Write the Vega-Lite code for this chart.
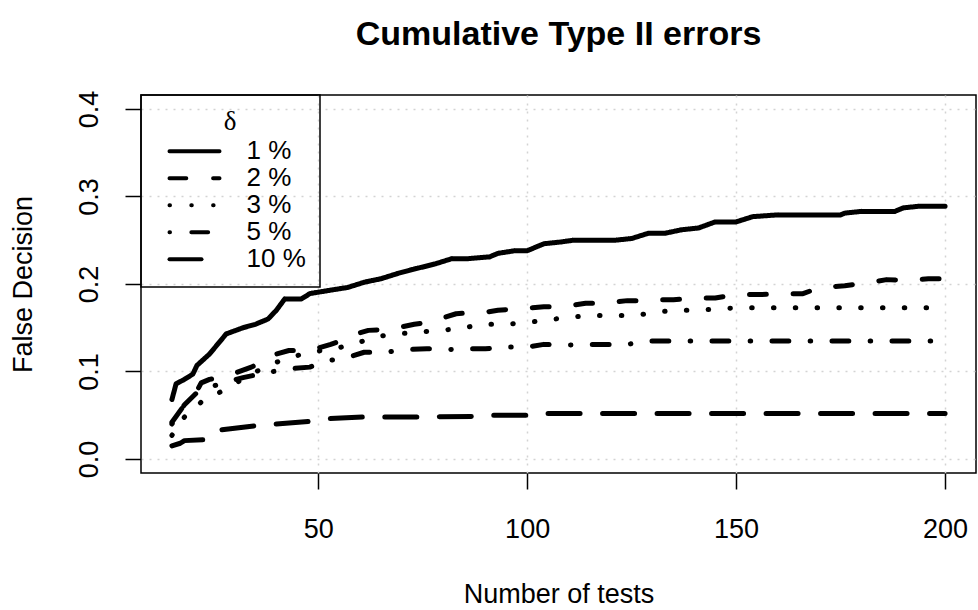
{
  "$schema": "https://vega.github.io/schema/vega-lite/v6.json",
  "width": 835,
  "height": 378,
  "autosize": {"type": "none"},
  "padding": {"left": 141, "top": 95, "right": 2, "bottom": 137},
  "background": "white",
  "title": {
    "text": "Cumulative Type II errors",
    "font": "Liberation Sans",
    "fontSize": 34,
    "fontWeight": "bold",
    "color": "black",
    "anchor": "middle",
    "frame": "group",
    "baseline": "alphabetic",
    "offset": 11
  },
  "datasets": {
    "errs": [
      {"n": 15, "rate": 0.068, "delta": "1 %"},
      {"n": 16, "rate": 0.086, "delta": "1 %"},
      {"n": 18, "rate": 0.091, "delta": "1 %"},
      {"n": 20, "rate": 0.097, "delta": "1 %"},
      {"n": 21, "rate": 0.107, "delta": "1 %"},
      {"n": 24, "rate": 0.120, "delta": "1 %"},
      {"n": 28, "rate": 0.143, "delta": "1 %"},
      {"n": 32, "rate": 0.150, "delta": "1 %"},
      {"n": 35, "rate": 0.154, "delta": "1 %"},
      {"n": 38, "rate": 0.160, "delta": "1 %"},
      {"n": 40, "rate": 0.170, "delta": "1 %"},
      {"n": 42, "rate": 0.183, "delta": "1 %"},
      {"n": 46, "rate": 0.183, "delta": "1 %"},
      {"n": 48, "rate": 0.189, "delta": "1 %"},
      {"n": 53, "rate": 0.193, "delta": "1 %"},
      {"n": 57, "rate": 0.196, "delta": "1 %"},
      {"n": 61, "rate": 0.202, "delta": "1 %"},
      {"n": 65, "rate": 0.206, "delta": "1 %"},
      {"n": 69, "rate": 0.212, "delta": "1 %"},
      {"n": 73, "rate": 0.217, "delta": "1 %"},
      {"n": 78, "rate": 0.223, "delta": "1 %"},
      {"n": 82, "rate": 0.229, "delta": "1 %"},
      {"n": 86, "rate": 0.229, "delta": "1 %"},
      {"n": 91, "rate": 0.231, "delta": "1 %"},
      {"n": 93, "rate": 0.235, "delta": "1 %"},
      {"n": 97, "rate": 0.238, "delta": "1 %"},
      {"n": 100, "rate": 0.238, "delta": "1 %"},
      {"n": 104, "rate": 0.246, "delta": "1 %"},
      {"n": 108, "rate": 0.248, "delta": "1 %"},
      {"n": 111, "rate": 0.250, "delta": "1 %"},
      {"n": 121, "rate": 0.250, "delta": "1 %"},
      {"n": 125, "rate": 0.252, "delta": "1 %"},
      {"n": 129, "rate": 0.258, "delta": "1 %"},
      {"n": 133, "rate": 0.258, "delta": "1 %"},
      {"n": 137, "rate": 0.262, "delta": "1 %"},
      {"n": 141, "rate": 0.264, "delta": "1 %"},
      {"n": 145, "rate": 0.271, "delta": "1 %"},
      {"n": 150, "rate": 0.271, "delta": "1 %"},
      {"n": 154, "rate": 0.277, "delta": "1 %"},
      {"n": 160, "rate": 0.279, "delta": "1 %"},
      {"n": 175, "rate": 0.279, "delta": "1 %"},
      {"n": 176, "rate": 0.281, "delta": "1 %"},
      {"n": 180, "rate": 0.283, "delta": "1 %"},
      {"n": 188, "rate": 0.283, "delta": "1 %"},
      {"n": 190, "rate": 0.287, "delta": "1 %"},
      {"n": 194, "rate": 0.289, "delta": "1 %"},
      {"n": 200, "rate": 0.289, "delta": "1 %"},

      {"n": 15, "rate": 0.042, "delta": "2 %"},
      {"n": 18, "rate": 0.062, "delta": "2 %"},
      {"n": 21, "rate": 0.078, "delta": "2 %"},
      {"n": 22, "rate": 0.087, "delta": "2 %"},
      {"n": 24, "rate": 0.091, "delta": "2 %"},
      {"n": 27, "rate": 0.094, "delta": "2 %"},
      {"n": 30, "rate": 0.098, "delta": "2 %"},
      {"n": 34, "rate": 0.105, "delta": "2 %"},
      {"n": 37, "rate": 0.112, "delta": "2 %"},
      {"n": 40, "rate": 0.120, "delta": "2 %"},
      {"n": 43, "rate": 0.124, "delta": "2 %"},
      {"n": 48, "rate": 0.124, "delta": "2 %"},
      {"n": 53, "rate": 0.131, "delta": "2 %"},
      {"n": 56, "rate": 0.136, "delta": "2 %"},
      {"n": 59, "rate": 0.143, "delta": "2 %"},
      {"n": 62, "rate": 0.147, "delta": "2 %"},
      {"n": 66, "rate": 0.148, "delta": "2 %"},
      {"n": 69, "rate": 0.150, "delta": "2 %"},
      {"n": 73, "rate": 0.154, "delta": "2 %"},
      {"n": 76, "rate": 0.156, "delta": "2 %"},
      {"n": 79, "rate": 0.160, "delta": "2 %"},
      {"n": 83, "rate": 0.166, "delta": "2 %"},
      {"n": 86, "rate": 0.167, "delta": "2 %"},
      {"n": 89, "rate": 0.167, "delta": "2 %"},
      {"n": 93, "rate": 0.170, "delta": "2 %"},
      {"n": 96, "rate": 0.171, "delta": "2 %"},
      {"n": 99, "rate": 0.172, "delta": "2 %"},
      {"n": 104, "rate": 0.174, "delta": "2 %"},
      {"n": 106, "rate": 0.174, "delta": "2 %"},
      {"n": 110, "rate": 0.175, "delta": "2 %"},
      {"n": 114, "rate": 0.178, "delta": "2 %"},
      {"n": 117, "rate": 0.178, "delta": "2 %"},
      {"n": 120, "rate": 0.179, "delta": "2 %"},
      {"n": 124, "rate": 0.181, "delta": "2 %"},
      {"n": 127, "rate": 0.181, "delta": "2 %"},
      {"n": 130, "rate": 0.182, "delta": "2 %"},
      {"n": 135, "rate": 0.182, "delta": "2 %"},
      {"n": 140, "rate": 0.184, "delta": "2 %"},
      {"n": 145, "rate": 0.184, "delta": "2 %"},
      {"n": 150, "rate": 0.188, "delta": "2 %"},
      {"n": 156, "rate": 0.188, "delta": "2 %"},
      {"n": 161, "rate": 0.189, "delta": "2 %"},
      {"n": 166, "rate": 0.189, "delta": "2 %"},
      {"n": 170, "rate": 0.196, "delta": "2 %"},
      {"n": 176, "rate": 0.198, "delta": "2 %"},
      {"n": 181, "rate": 0.201, "delta": "2 %"},
      {"n": 186, "rate": 0.205, "delta": "2 %"},
      {"n": 191, "rate": 0.204, "delta": "2 %"},
      {"n": 196, "rate": 0.206, "delta": "2 %"},
      {"n": 200, "rate": 0.206, "delta": "2 %"},

      {"n": 15, "rate": 0.027, "delta": "3 %"},
      {"n": 18, "rate": 0.048, "delta": "3 %"},
      {"n": 22, "rate": 0.065, "delta": "3 %"},
      {"n": 26, "rate": 0.075, "delta": "3 %"},
      {"n": 30, "rate": 0.086, "delta": "3 %"},
      {"n": 34, "rate": 0.097, "delta": "3 %"},
      {"n": 39, "rate": 0.109, "delta": "3 %"},
      {"n": 44, "rate": 0.117, "delta": "3 %"},
      {"n": 48, "rate": 0.122, "delta": "3 %"},
      {"n": 54, "rate": 0.126, "delta": "3 %"},
      {"n": 59, "rate": 0.132, "delta": "3 %"},
      {"n": 64, "rate": 0.140, "delta": "3 %"},
      {"n": 69, "rate": 0.143, "delta": "3 %"},
      {"n": 74, "rate": 0.145, "delta": "3 %"},
      {"n": 79, "rate": 0.147, "delta": "3 %"},
      {"n": 84, "rate": 0.149, "delta": "3 %"},
      {"n": 89, "rate": 0.154, "delta": "3 %"},
      {"n": 95, "rate": 0.154, "delta": "3 %"},
      {"n": 100, "rate": 0.156, "delta": "3 %"},
      {"n": 105, "rate": 0.159, "delta": "3 %"},
      {"n": 110, "rate": 0.162, "delta": "3 %"},
      {"n": 115, "rate": 0.164, "delta": "3 %"},
      {"n": 126, "rate": 0.164, "delta": "3 %"},
      {"n": 131, "rate": 0.168, "delta": "3 %"},
      {"n": 136, "rate": 0.170, "delta": "3 %"},
      {"n": 141, "rate": 0.170, "delta": "3 %"},
      {"n": 147, "rate": 0.172, "delta": "3 %"},
      {"n": 152, "rate": 0.173, "delta": "3 %"},
      {"n": 200, "rate": 0.173, "delta": "3 %"},

      {"n": 15, "rate": 0.040, "delta": "5 %"},
      {"n": 18, "rate": 0.062, "delta": "5 %"},
      {"n": 21, "rate": 0.076, "delta": "5 %"},
      {"n": 24, "rate": 0.082, "delta": "5 %"},
      {"n": 28, "rate": 0.088, "delta": "5 %"},
      {"n": 32, "rate": 0.093, "delta": "5 %"},
      {"n": 38, "rate": 0.099, "delta": "5 %"},
      {"n": 43, "rate": 0.103, "delta": "5 %"},
      {"n": 48, "rate": 0.105, "delta": "5 %"},
      {"n": 52, "rate": 0.112, "delta": "5 %"},
      {"n": 57, "rate": 0.116, "delta": "5 %"},
      {"n": 61, "rate": 0.122, "delta": "5 %"},
      {"n": 66, "rate": 0.122, "delta": "5 %"},
      {"n": 71, "rate": 0.125, "delta": "5 %"},
      {"n": 76, "rate": 0.126, "delta": "5 %"},
      {"n": 81, "rate": 0.125, "delta": "5 %"},
      {"n": 86, "rate": 0.126, "delta": "5 %"},
      {"n": 90, "rate": 0.126, "delta": "5 %"},
      {"n": 95, "rate": 0.128, "delta": "5 %"},
      {"n": 100, "rate": 0.128, "delta": "5 %"},
      {"n": 104, "rate": 0.131, "delta": "5 %"},
      {"n": 109, "rate": 0.130, "delta": "5 %"},
      {"n": 114, "rate": 0.131, "delta": "5 %"},
      {"n": 124, "rate": 0.131, "delta": "5 %"},
      {"n": 129, "rate": 0.135, "delta": "5 %"},
      {"n": 200, "rate": 0.135, "delta": "5 %"},

      {"n": 15, "rate": 0.015, "delta": "10 %"},
      {"n": 17, "rate": 0.018, "delta": "10 %"},
      {"n": 18, "rate": 0.021, "delta": "10 %"},
      {"n": 23, "rate": 0.022, "delta": "10 %"},
      {"n": 26, "rate": 0.033, "delta": "10 %"},
      {"n": 35, "rate": 0.038, "delta": "10 %"},
      {"n": 40, "rate": 0.040, "delta": "10 %"},
      {"n": 48, "rate": 0.043, "delta": "10 %"},
      {"n": 52, "rate": 0.046, "delta": "10 %"},
      {"n": 61, "rate": 0.048, "delta": "10 %"},
      {"n": 74, "rate": 0.048, "delta": "10 %"},
      {"n": 87, "rate": 0.0486, "delta": "10 %"},
      {"n": 91, "rate": 0.050, "delta": "10 %"},
      {"n": 100, "rate": 0.050, "delta": "10 %"},
      {"n": 102, "rate": 0.052, "delta": "10 %"},
      {"n": 200, "rate": 0.052, "delta": "10 %"}
    ]
  },
  "data": {"name": "errs"},
  "mark": {
    "type": "line",
    "color": "black",
    "strokeWidth": 5,
    "strokeCap": "round",
    "strokeJoin": "round",
    "interpolate": "linear"
  },
  "encoding": {
    "x": {
      "field": "n",
      "type": "quantitative",
      "scale": {"domain": [7.6, 207.4], "nice": false, "zero": false},
      "axis": {
        "values": [50, 100, 150, 200],
        "title": "Number of tests",
        "titleX": 417.5,
        "titleY": 129.7,
        "titleBaseline": "alphabetic",
        "titleAlign": "center",
        "labelPadding": 48.7,
        "labelBaseline": "alphabetic",
        "labelAlign": "center",
        "labelFlush": false,
        "labelOverlap": false
      }
    },
    "y": {
      "field": "rate",
      "type": "quantitative",
      "scale": {"domain": [-0.016, 0.416], "nice": false, "zero": false},
      "axis": {
        "values": [0, 0.1, 0.2, 0.3, 0.4],
        "format": ".1f",
        "title": "False Decision",
        "titleAngle": 270,
        "titleX": -109.3,
        "titleY": 189,
        "titleBaseline": "alphabetic",
        "titleAlign": "center",
        "labelAngle": 270,
        "labelAlign": "center",
        "labelBaseline": "alphabetic",
        "labelPadding": 27.4,
        "labelFlush": false,
        "labelOverlap": false
      }
    },
    "strokeDash": {
      "field": "delta",
      "type": "nominal",
      "scale": {
        "domain": ["1 %", "2 %", "3 %", "5 %", "10 %"],
        "range": [[1, 0], [16.8, 26.8], [0.5, 21.3], [0.5, 21.35, 16.8, 21.35], [32, 22.5]]
      },
      "legend": {
        "title": "δ",
        "orient": "top-left",
        "offset": 0,
        "padding": 14,
        "strokeColor": "black",
        "symbolType": "stroke",
        "symbolSize": 2500,
        "symbolStrokeWidth": 4,
        "symbolStrokeColor": "black",
        "symbolOffset": 12.5,
        "labelOffset": 25,
        "clipHeight": 26.5,
        "rowPadding": 0,
        "titlePadding": 2,
        "titleAnchor": "middle",
        "titleAlign": "center",
        "labelLimit": 300,
        "encode": {
          "symbols": {
            "update": {
              "strokeCap": {"value": "round"},
              "strokeDash": {"signal": "datum.value === '2 %' ? [10, 20] : datum.value === '3 %' ? [0.5, 14.5] : datum.value === '5 %' ? [0.5, 12.5, 10, 17] : datum.value === '10 %' ? [23, 14] : [1, 0]"}
            }
          },
          "legend": {
            "update": {"strokeWidth": {"value": 1.5}}
          }
        }
      }
    }
  },
  "config": {
    "font": "Liberation Sans",
    "view": {"stroke": "black", "strokeWidth": 1.5},
    "axis": {
      "domain": false,
      "grid": true,
      "gridColor": "#d3d3d3",
      "gridDash": [2, 6],
      "gridWidth": 1.5,
      "gridOpacity": 1,
      "ticks": true,
      "tickSize": 16,
      "tickWidth": 1.5,
      "tickColor": "black",
      "labelFont": "Liberation Sans",
      "labelFontSize": 27,
      "labelColor": "black",
      "titleFont": "Liberation Sans",
      "titleFontSize": 27,
      "titleFontWeight": "normal",
      "titleColor": "black"
    },
    "legend": {
      "labelFont": "Liberation Sans",
      "labelFontSize": 26,
      "labelColor": "black",
      "titleFont": "Liberation Serif",
      "titleFontSize": 27,
      "titleFontWeight": "normal",
      "titleColor": "black",
      "strokeWidth": 1.5
    }
  }
}
